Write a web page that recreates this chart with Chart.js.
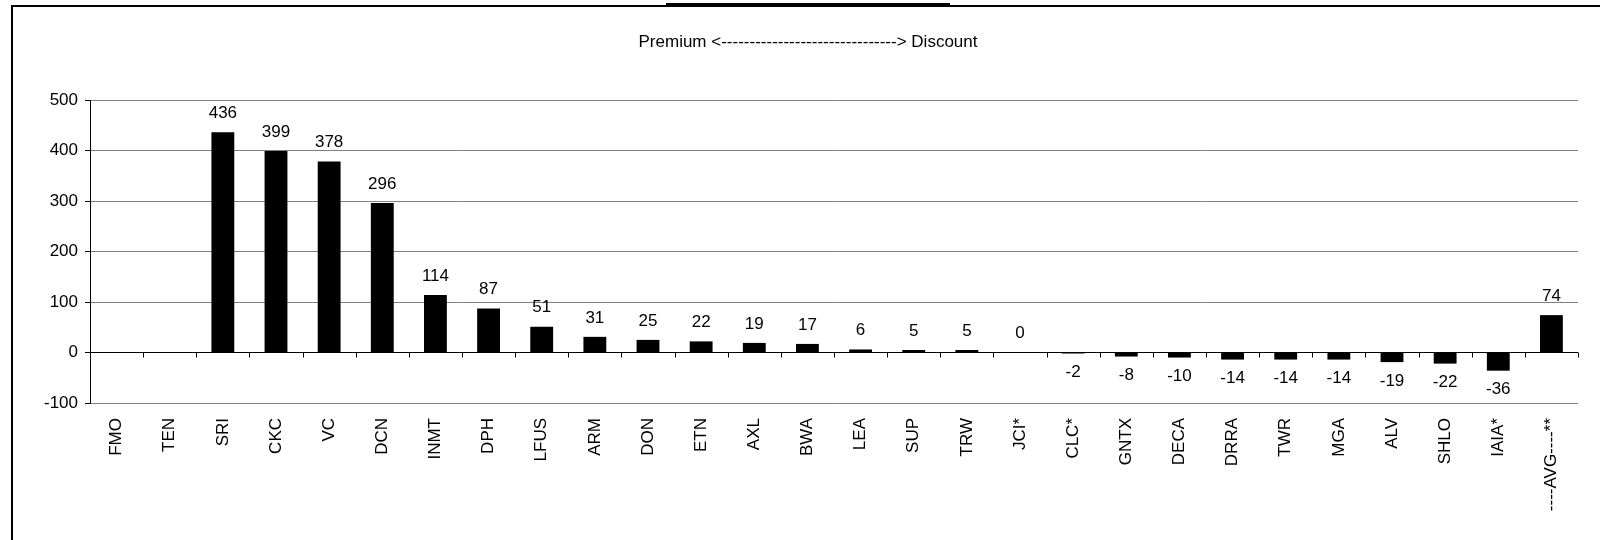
<!DOCTYPE html>
<html>
<head>
<meta charset="utf-8">
<script src="https://cdn.jsdelivr.net/npm/chart.js@4.4.0/dist/chart.umd.min.js"></script>
<style>
  body { margin: 0; background: #fff; overflow: hidden; }
  #wrap { position: relative; width: 1600px; height: 540px; overflow: hidden; }
  #frame { position: absolute; left: 11px; top: 5px; width: 1700px; height: 700px;
           border-left: 2px solid #000; border-top: 2px solid #000; }
  #titlebar { position: absolute; left: 666px; top: 3px; width: 284px; height: 4px; background: #000; }
  canvas { position: absolute; left: 0; top: 0; }
</style>
</head>
<body>
<div id="wrap">
  <div id="frame"></div>
  <div id="titlebar"></div>
  <canvas id="myChart" width="1600" height="540"></canvas>
</div>
<script>
// data
const tickers = ["FMO", "TEN", "SRI", "CKC", "VC", "DCN", "INMT", "DPH", "LFUS", "ARM",
  "DON", "ETN", "AXL", "BWA", "LEA", "SUP", "TRW", "JCI*", "CLC*", "GNTX",
  "DECA", "DRRA", "TWR", "MGA", "ALV", "SHLO", "IAIA*", "----AVG----**"];
const premium = [null, null, 436, 399, 378, 296, 114, 87, 51, 31,
  25, 22, 19, 17, 6, 5, 5, 0, -2, -8,
  -10, -14, -14, -14, -19, -22, -36, 74];
const yTicks = [-100, 0, 100, 200, 300, 400, 500];
const subtitle = "Premium <" + "-".repeat(31) + "> Discount";

const FONT = "'Liberation Sans', Arial, sans-serif";

// value labels above / below each bar
const valueLabels = {
  id: "valueLabels",
  afterDatasetsDraw(chart) {
    const { ctx } = chart;
    const meta = chart.getDatasetMeta(0);
    ctx.save();
    ctx.font = "17px " + FONT;
    ctx.fillStyle = "#000";
    ctx.textAlign = "center";
    ctx.textBaseline = "middle";
    meta.data.forEach((bar, i) => {
      const v = premium[i];
      if (v === null) return;
      const y = v >= 0 ? bar.y - 19 : bar.y + 19;
      ctx.fillText(String(v), bar.x, y);
    });
    ctx.restore();
  }
};

// small tick marks hanging under the zero line + the subtitle
const zeroTicks = {
  id: "zeroTicks",
  afterDraw(chart) {
    const { ctx, scales } = chart;
    const y0 = scales.y.getPixelForValue(0);
    const step = scales.x.width / tickers.length;
    ctx.save();
    ctx.strokeStyle = "#000";
    ctx.lineWidth = 1;
    ctx.beginPath();
    for (let i = 0; i <= tickers.length; i++) {
      const x = Math.round(scales.x.left + i * step) + 0.5;
      ctx.moveTo(x, y0);
      ctx.lineTo(x, y0 + 5);
    }
    ctx.stroke();
    ctx.font = "17px " + FONT;
    ctx.fillStyle = "#000";
    ctx.textAlign = "center";
    ctx.textBaseline = "middle";
    ctx.fillText(subtitle, 808, 42);
    ctx.restore();
  }
};

const printChart = () => {
  const ctx = document.getElementById("myChart").getContext("2d");
  new Chart(ctx, {
    type: "bar",
    data: {
      labels: tickers,
      datasets: [
        {
          data: premium,
          backgroundColor: "#000",
          barPercentage: 0.43,
          categoryPercentage: 1
        }
      ]
    },
    options: {
      responsive: false,
      animation: false,
      layout: { padding: { top: 100, right: 22, left: 0, bottom: 0 } },
      plugins: { legend: { display: false }, tooltip: { enabled: false } },
      scales: {
        y: {
          min: yTicks[0],
          max: yTicks[yTicks.length - 1],
          afterBuildTicks: s => { s.ticks = yTicks.map(v => ({ value: v })); },
          ticks: { color: "#000", font: { family: FONT, size: 17 }, padding: 7 },
          grid: {
            color: c => (c.tick && c.tick.value === 0 ? "#000" : "#808080"),
            tickLength: 5,
            tickColor: "#000"
          },
          border: { color: "#000" },
          afterFit: s => { s.width = 90; }
        },
        x: {
          grid: { display: false, drawTicks: false },
          border: { display: false },
          ticks: {
            autoSkip: false,
            minRotation: 90,
            maxRotation: 90,
            padding: 15,
            color: "#000",
            font: { family: FONT, size: 17 }
          },
          afterFit: s => { s.height = 137; }
        }
      }
    },
    plugins: [valueLabels, zeroTicks]
  });
};

printChart();
</script>
</body>
</html>
